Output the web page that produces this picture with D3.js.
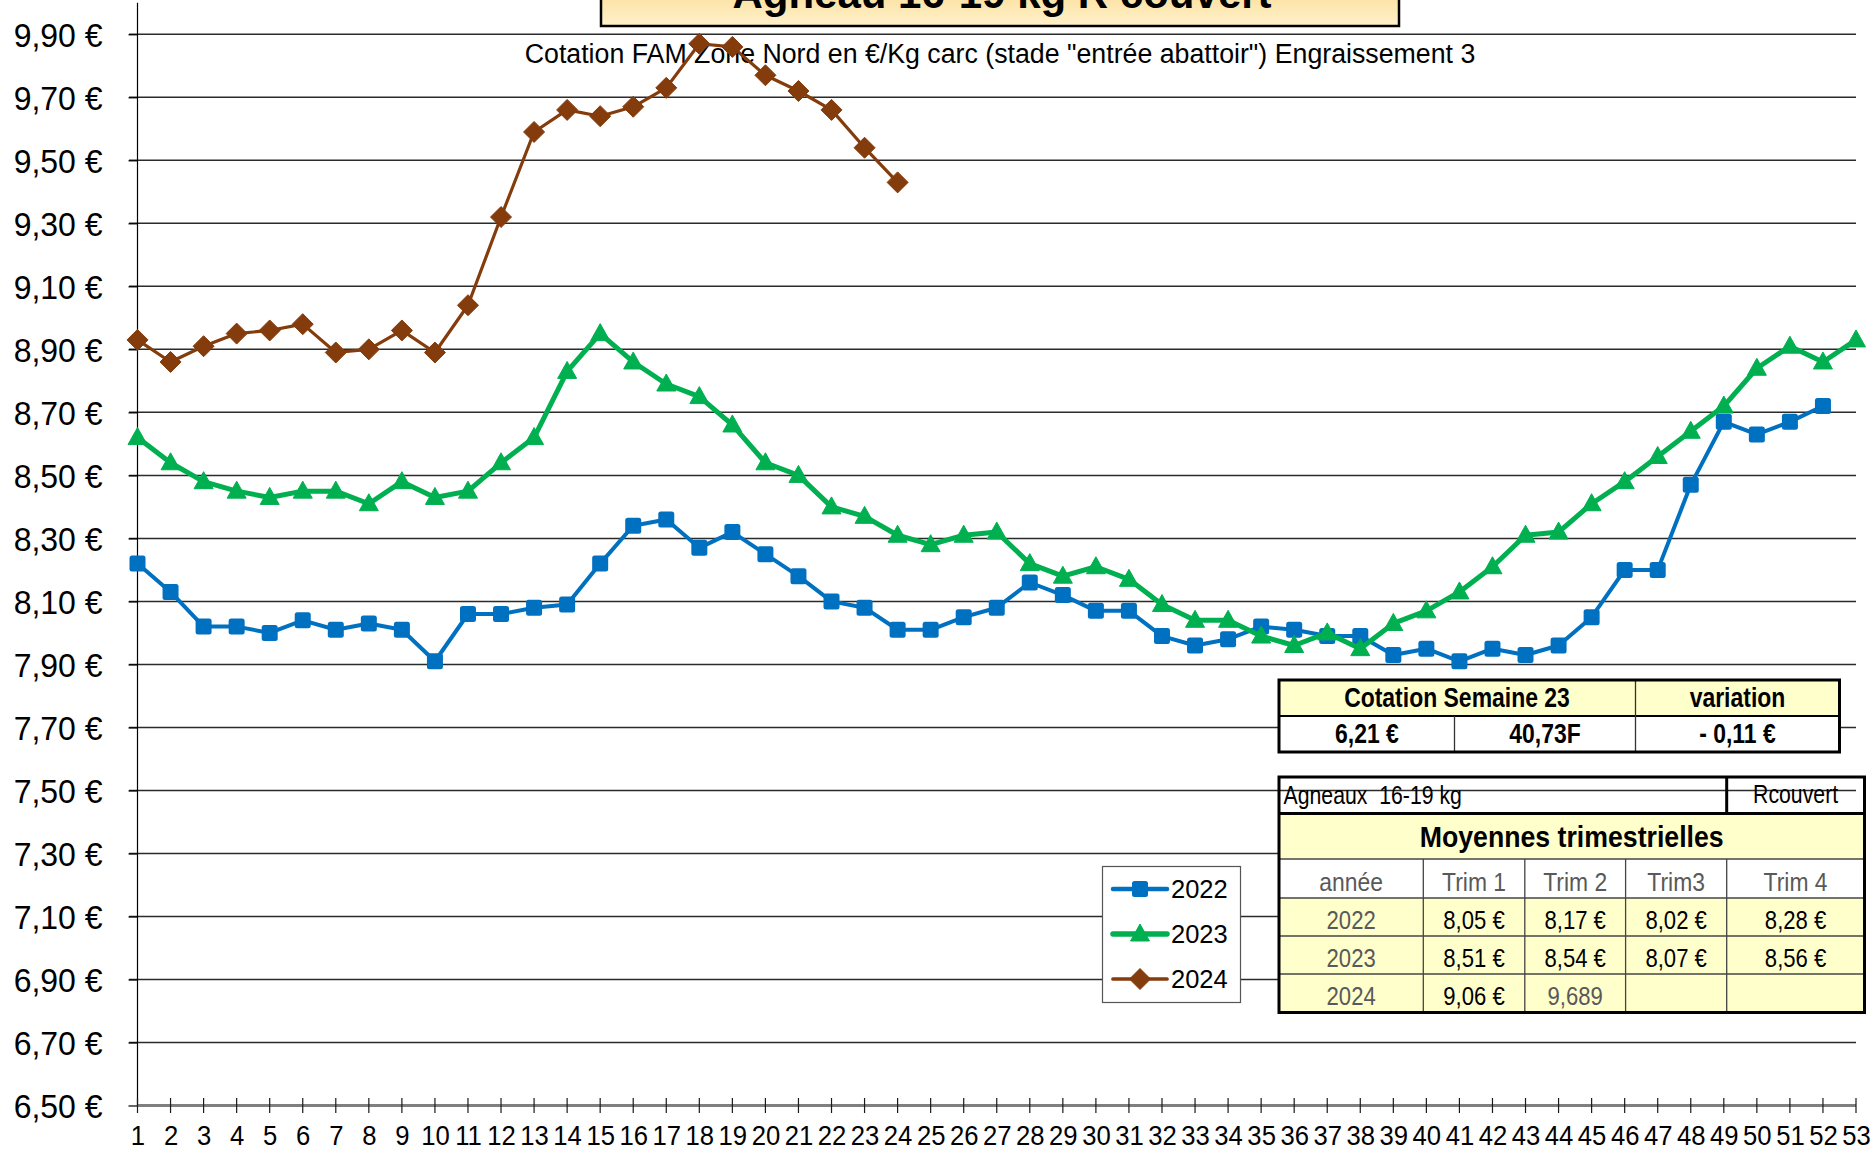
<!DOCTYPE html>
<html><head><meta charset="utf-8">
<script src="https://cdn.jsdelivr.net/npm/d3@7"></script>
<style>html,body{margin:0;padding:0;background:#fff;overflow:hidden}svg{display:block}text{font-family:"Liberation Sans",Arial,sans-serif;white-space:pre}</style>
</head><body>
<script>
// ---------- DATA ----------
const weeks = [1,2,3,4,5,6,7,8,9,10,11,12,13,14,15,16,17,18,19,20,21,22,23,24,25,26,27,28,29,30,31,32,33,34,35,36,37,38,39,40,41,42,43,44,45,46,47,48,49,50,51,52,53];
const yTicks = [6.5,6.7,6.9,7.1,7.3,7.5,7.7,7.9,8.1,8.3,8.5,8.7,8.9,9.1,9.3,9.5,9.7,9.9];
const s2022 = [8.22,8.13,8.02,8.02,8.00,8.04,8.01,8.03,8.01,7.91,8.06,8.06,8.08,8.09,8.22,8.34,8.36,8.27,8.32,8.25,8.18,8.10,8.08,8.01,8.01,8.05,8.08,8.16,8.12,8.07,8.07,7.99,7.96,7.98,8.02,8.01,7.99,7.99,7.93,7.95,7.91,7.95,7.93,7.96,8.05,8.20,8.20,8.47,8.67,8.63,8.67,8.72];
const s2023 = [8.62,8.54,8.48,8.45,8.43,8.45,8.45,8.41,8.48,8.43,8.45,8.54,8.62,8.83,8.95,8.86,8.79,8.75,8.66,8.54,8.50,8.40,8.37,8.31,8.28,8.31,8.32,8.22,8.18,8.21,8.17,8.09,8.04,8.04,7.99,7.96,8.00,7.95,8.03,8.07,8.13,8.21,8.31,8.32,8.41,8.48,8.56,8.64,8.72,8.84,8.91,8.86,8.93];
const s2024 = [8.93,8.86,8.91,8.95,8.96,8.98,8.89,8.90,8.96,8.89,9.04,9.32,9.59,9.66,9.64,9.67,9.73,9.87,9.86,9.77,9.72,9.66,9.54,9.43];
const seriesNames = ["2022","2023","2024"];
const titleText = "Agneau 16-19 kg R couvert";
const subtitleText = 'Cotation FAM Zone Nord en €/Kg carc (stade "entrée abattoir") Engraissement 3';
const cotationHeader = ["Cotation Semaine 23","variation"];
const cotationValues = ["6,21 €","40,73F","- 0,11 €"];
const tableTitle = ["Agneaux  16-19 kg","Rcouvert"];
const tableSubtitle = "Moyennes trimestrielles";
const trimHeaders = ["année","Trim 1","Trim 2","Trim3","Trim 4"];
const trimRows = [["2022","8,05 €","8,17 €","8,02 €","8,28 €"],["2023","8,51 €","8,54 €","8,07 €","8,56 €"],["2024","9,06 €","9,689","",""]];

// ---------- STYLE ----------
const W = 1875, H = 1152;
const colors = {"2022":"#0070C0","2023":"#00B050","2024":"#843C0C"};
const widths = {"2022":4,"2023":5,"2024":3.2};

const svg = d3.select("body").append("svg").attr("width",W).attr("height",H);
const defs = svg.append("defs");
const grad = defs.append("linearGradient").attr("id","tg").attr("x1",0).attr("y1",0).attr("x2",0).attr("y2",1);
grad.append("stop").attr("offset","0%").attr("stop-color","#F8CF72");
grad.append("stop").attr("offset","100%").attr("stop-color","#FFF1CC");

// condense a text horizontally (Arial Narrow look)
function squeeze(sel, f){
  sel.each(function(){
    const w = this.getComputedTextLength();
    if(w>0) d3.select(this).attr("textLength", w*f).attr("lengthAdjust","spacingAndGlyphs");
  });
  return sel;
}

const x = d3.scaleLinear().domain([1,53]).range([137.5,1856]);
const y = d3.scaleLinear().domain([6.5,9.9]).range([1105.5,34.3]);

// gridlines
svg.append("g").selectAll("line").data(yTicks.slice(1)).join("line")
  .attr("x1",129).attr("x2",1856).attr("y1",d=>y(d)).attr("y2",d=>y(d))
  .attr("stroke","#2b2b2b").attr("stroke-width",1.5);

// y axis
const yAxis = d3.axisLeft(y).tickValues(yTicks).tickSize(9).tickSizeOuter(0)
  .tickFormat(d=>d3.format(".2f")(d).replace(".",",")+" €");
const gy = svg.append("g").attr("transform","translate(137.5,0)").call(yAxis);
gy.select(".domain").remove();
gy.selectAll(".tick line").attr("stroke","#000").attr("stroke-width",1.2);
gy.selectAll(".tick text").attr("font-size",34).attr("fill","#000").attr("x",-35).attr("dy","0.36em").attr("font-family","'Liberation Sans',Arial,sans-serif");
squeeze(gy.selectAll(".tick text"),0.94);
svg.append("line").attr("x1",137.5).attr("x2",137.5).attr("y1",y(10.0)).attr("y2",1105.5).attr("stroke","#000").attr("stroke-width",1.2);

// x axis
const xAxis = d3.axisBottom(x).tickValues(weeks).tickSize(0).tickFormat(d=>d);
const gx = svg.append("g").attr("transform","translate(0,1105.5)").call(xAxis);
gx.select(".domain").attr("stroke","#7f7f7f").attr("stroke-width",3).attr("d","M137.5,0H1856");
gx.selectAll(".tick text").attr("font-size",27).attr("fill","#000").attr("y",39).attr("dy",0).attr("font-family","'Liberation Sans',Arial,sans-serif");
squeeze(gx.selectAll(".tick text"),0.95);
svg.append("g").selectAll("line").data(weeks).join("line")
  .attr("x1",d=>x(d)).attr("x2",d=>x(d)).attr("y1",1098).attr("y2",1113)
  .attr("stroke","#1a1a1a").attr("stroke-width",1.2);

// subtitle
squeeze(svg.append("text").attr("x",1000).attr("y",63).attr("text-anchor","middle").attr("font-size",27).attr("fill","#000").text(subtitleText),0.99);

// series
const series = [["2022",s2022],["2023",s2023],["2024",s2024]];
const line = d3.line().x((d,i)=>x(weeks[i])).y(d=>y(d));
function marker(g, name, cx, cy){
  const c = colors[name];
  if(name==="2022"){
    g.append("rect").attr("x",cx-8).attr("y",cy-8).attr("width",16).attr("height",16).attr("rx",2.5).attr("fill",c);
  } else if(name==="2023"){
    g.append("path").attr("d",`M${cx},${cy-10}L${cx+9.5},${cy+7}L${cx-9.5},${cy+7}Z`).attr("fill",c).attr("stroke",c).attr("stroke-width",1).attr("stroke-linejoin","round");
  } else {
    g.append("path").attr("d",`M${cx},${cy-10.5}L${cx+10.5},${cy}L${cx},${cy+10.5}L${cx-10.5},${cy}Z`).attr("fill",c).attr("stroke",c).attr("stroke-width",1).attr("stroke-linejoin","round");
  }
}
series.forEach(([name,vals])=>{
  const g = svg.append("g");
  g.append("path").datum(vals).attr("d",line).attr("fill","none").attr("stroke",colors[name]).attr("stroke-width",widths[name]).attr("stroke-linejoin","round");
  vals.forEach((v,i)=>marker(g,name,x(weeks[i]),y(v)));
});

// title box
svg.append("rect").attr("x",601).attr("y",-40).attr("width",798).attr("height",66).attr("fill","url(#tg)").attr("stroke","#000").attr("stroke-width",2.5);
svg.append("text").attr("x",1002).attr("y",8).attr("text-anchor","middle").attr("font-size",42).attr("font-weight","bold").attr("fill","#000").text(titleText);

// legend
const lg = svg.append("g");
lg.append("rect").attr("x",1102.5).attr("y",866.5).attr("width",138).attr("height",136).attr("fill","#fff").attr("stroke","#555").attr("stroke-width",1.2);
seriesNames.forEach((n,i)=>{
  const cy = 889 + i*45;
  lg.append("line").attr("x1",1113).attr("x2",1167).attr("y1",cy).attr("y2",cy).attr("stroke",colors[n]).attr("stroke-width",widths[n]+0.5).attr("stroke-linecap","round");
  marker(lg,n,1140,cy);
  lg.append("text").attr("x",1171).attr("y",cy+8.5).attr("font-size",25.5).attr("fill","#000").text(n);
});

// cotation table
const ct = svg.append("g");
const yellow = "#FFFFCC";
const NF = 0.85;
ct.append("rect").attr("x",1279).attr("y",680).attr("width",356.5).attr("height",36).attr("fill",yellow);
ct.append("rect").attr("x",1635.5).attr("y",680).attr("width",204).attr("height",36).attr("fill",yellow);
ct.append("rect").attr("x",1279).attr("y",716).attr("width",560.5).attr("height",36).attr("fill","#fff");
ct.append("line").attr("x1",1279).attr("x2",1839.5).attr("y1",716).attr("y2",716).attr("stroke","#000").attr("stroke-width",2);
ct.append("line").attr("x1",1635.5).attr("x2",1635.5).attr("y1",680).attr("y2",752).attr("stroke","#333").attr("stroke-width",1.3);
ct.append("line").attr("x1",1454.5).attr("x2",1454.5).attr("y1",716).attr("y2",752).attr("stroke","#333").attr("stroke-width",1.3);
ct.append("rect").attr("x",1279).attr("y",680).attr("width",560.5).attr("height",72).attr("fill","none").attr("stroke","#000").attr("stroke-width",3);
squeeze(ct.append("text").attr("x",1457).attr("y",706.5).attr("text-anchor","middle").attr("font-size",27).attr("font-weight","bold").text(cotationHeader[0]),NF);
squeeze(ct.append("text").attr("x",1737.5).attr("y",706.5).attr("text-anchor","middle").attr("font-size",27).attr("font-weight","bold").text(cotationHeader[1]),NF);
[1367,1545,1737.5].forEach((cx,i)=>squeeze(ct.append("text").attr("x",cx).attr("y",742.5).attr("text-anchor","middle").attr("font-size",27).attr("font-weight","bold").text(cotationValues[i]),NF));

// trimestrial table
const tt = svg.append("g");
const tx0 = 1279, tx1 = 1864.5;
const colX = [1279,1423.3,1524.8,1625.6,1726.7,1864.5];
const rowY = [777,813.5,859,898,936,974,1012.5];
tt.append("rect").attr("x",tx0).attr("y",rowY[1]).attr("width",tx1-tx0).attr("height",rowY[2]-rowY[1]).attr("fill",yellow);
tt.append("rect").attr("x",tx0).attr("y",rowY[2]).attr("width",tx1-tx0).attr("height",rowY[3]-rowY[2]).attr("fill","#fff");
tt.append("rect").attr("x",tx0).attr("y",rowY[3]).attr("width",tx1-tx0).attr("height",rowY[6]-rowY[3]).attr("fill",yellow);
[rowY[2],rowY[3],rowY[4],rowY[5]].forEach(yy=>tt.append("line").attr("x1",tx0).attr("x2",tx1).attr("y1",yy).attr("y2",yy).attr("stroke","#444").attr("stroke-width",1.3));
colX.slice(1,5).forEach(xx=>tt.append("line").attr("x1",xx).attr("x2",xx).attr("y1",rowY[2]).attr("y2",rowY[6]).attr("stroke","#444").attr("stroke-width",1.3));
tt.append("line").attr("x1",tx0).attr("x2",tx1).attr("y1",rowY[1]).attr("y2",rowY[1]).attr("stroke","#000").attr("stroke-width",3);
tt.append("line").attr("x1",colX[4]).attr("x2",colX[4]).attr("y1",rowY[0]).attr("y2",rowY[1]).attr("stroke","#000").attr("stroke-width",3);
tt.append("rect").attr("x",tx0).attr("y",rowY[0]).attr("width",tx1-tx0).attr("height",rowY[6]-rowY[0]).attr("fill","none").attr("stroke","#000").attr("stroke-width",3);
squeeze(tt.append("text").attr("x",1283.5).attr("y",803.5).attr("font-size",25).text(tableTitle[0]),NF);
squeeze(tt.append("text").attr("x",1795.6).attr("y",803).attr("text-anchor","middle").attr("font-size",25).text(tableTitle[1]),NF);
squeeze(tt.append("text").attr("x",1571.7).attr("y",846.5).attr("text-anchor","middle").attr("font-size",29).attr("font-weight","bold").text(tableSubtitle),0.92);
const colC = colX.slice(0,5).map((c,i)=>(c+colX[i+1])/2);
trimHeaders.forEach((h,i)=>squeeze(tt.append("text").attr("x",colC[i]).attr("y",891).attr("text-anchor","middle").attr("font-size",26).attr("fill","#595959").text(h),0.88));
trimRows.forEach((r,ri)=>{
  r.forEach((v,ci)=>{
    const gray = ci===0 || v.indexOf("€")<0;
    squeeze(tt.append("text").attr("x",colC[ci]).attr("y",928.5+ri*38).attr("text-anchor","middle").attr("font-size",26).attr("fill",gray?"#595959":"#000").text(v),NF);
  });
});
</script>
</body></html>
